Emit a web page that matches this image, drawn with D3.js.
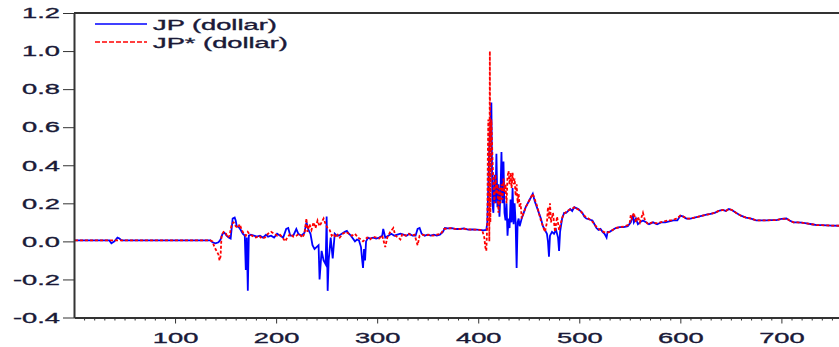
<!DOCTYPE html>
<html>
<head>
<meta charset="utf-8">
<script src="https://cdn.jsdelivr.net/npm/d3@7"></script>
<style>
  html, body { margin: 0; padding: 0; background: #fff; overflow: hidden; }
  svg { display: block; }
</style>
</head>
<body>
<svg id="chart" width="839" height="347"></svg>
<script>
// tick labels
const yTicks = [-0.4, -0.2, 0.0, 0.2, 0.4, 0.6, 0.8, 1.0, 1.2];
const xTicks = [100, 200, 300, 400, 500, 600, 700];
const seriesNames = ["JP (dollar)", "JP* (dollar)"];

// JP (dollar): [observation, value]
const jpPts = [
  [1,0.005],[35,0.005],[37,-0.01],[40,0.0],[43,0.02],[45,0.015],[47,0.005],[135,0.005],
  [137,-0.005],[140,-0.01],[143,-0.005],[145,0.01],[147,0.04],[149,0.045],[151,0.03],[153,0.02],
  [155,0.015],[157,0.12],[159,0.125],[160,0.11],[161,0.08],[163,0.075],[165,0.06],[167,0.04],
  [169,0.03],[170,-0.15],[171,0.02],[172,-0.26],[173,0.03],[175,0.035],[178,0.03],[181,0.025],
  [184,0.03],[187,0.02],[190,0.035],[192,0.025],[195,0.03],[198,0.02],[201,0.04],[204,0.03],
  [207,0.02],[210,0.065],[212,0.07],[214,0.03],[217,0.03],[220,0.065],[222,0.04],[225,0.03],
  [228,0.045],[230,0.1],[232,0.06],[234,0.04],[236,-0.02],[238,-0.04],[240,-0.03],[242,-0.02],
  [243,-0.2],[245,-0.05],[247,-0.1],[249,-0.12],[250,0.13],[251,-0.26],[252,-0.1],[254,0.02],
  [256,-0.09],[258,0.04],[260,0.03],[262,0.03],[265,0.04],[268,0.05],[270,0.055],[272,0.04],
  [274,0.03],[276,0.015],[278,0.0],[280,0.01],[282,0.005],[284,-0.03],[285,-0.09],[286,-0.14],
  [287,-0.04],[288,-0.1],[289,0.0],[291,0.02],[293,0.015],[296,0.02],[299,0.015],[302,0.02],
  [305,0.03],[306,0.065],[308,0.02],[311,0.03],[314,0.04],[317,0.03],[320,0.035],[323,0.04],
  [326,0.035],[329,0.03],[332,0.04],[335,0.03],[338,0.03],[340,0.065],[342,0.07],[344,0.04],
  [347,0.03],[350,0.035],[353,0.03],[356,0.035],[359,0.03],[362,0.035],[365,0.05],[367,0.07],
  [370,0.068],[374,0.07],[378,0.065],[382,0.065],[386,0.068],[390,0.062],[394,0.063],[398,0.062],
  [402,0.06],[405,0.058],[408,0.06],
  [409,0.1],[410,0.3],[411,0.5],[412,0.6],[413,0.73],[414,0.2],[415,0.15],[416,0.35],
  [417,0.2],[418,0.46],[419,0.18],[420,0.3],[421,0.13],[422,0.25],[423,0.47],[424,0.2],
  [425,0.42],[426,0.15],[427,0.11],[428,0.2],[429,0.03],[430,0.12],[431,0.07],[432,0.22],
  [433,0.1],[434,0.28],[435,0.09],[436,0.2],[437,0.1],[438,-0.14],[439,0.1],[440,0.12],
  [441,0.08],[443,0.12],[445,0.15],[447,0.18],[449,0.2],[451,0.22],[453,0.24],[454,0.25],
  [456,0.21],[458,0.18],[460,0.15],[462,0.12],[464,0.08],[466,0.06],[468,0.04],[469,0.0],
  [470,-0.08],[471,0.03],[473,0.05],[475,0.04],[477,0.06],[479,0.02],[480,-0.05],[481,0.05],
  [483,0.12],[485,0.15],[487,0.15],[489,0.16],[491,0.17],[493,0.16],[495,0.18],[497,0.175],
  [499,0.17],[501,0.16],[503,0.15],[505,0.13],[507,0.12],[510,0.115],[513,0.11],[515,0.09],
  [517,0.07],[519,0.06],[521,0.065],[523,0.05],[525,0.04],[527,0.02],[528,0.05],[530,0.05],
  [533,0.06],[536,0.07],[540,0.075],[544,0.075],[548,0.08],[551,0.1],[552,0.12],[553,0.14],
  [554,0.1],[556,0.12],[558,0.09],[560,0.1],[563,0.11],[566,0.1],[569,0.09],[573,0.1],
  [577,0.09],[581,0.1],[585,0.1],[589,0.105],[593,0.11],[597,0.11]
];

// JP* (dollar): [observation, value]
const jpStarPts = [
  [1,0.005],[135,0.005],[137,0.0],[139,-0.03],[141,-0.05],[143,-0.07],[144,-0.1],[145,-0.08],
  [146,0.03],[148,0.05],[150,0.045],[152,0.02],[154,0.03],[156,0.09],[158,0.1],[160,0.08],
  [162,0.07],[164,0.09],[166,0.06],[168,0.04],[170,0.03],[172,0.05],[174,0.035],[176,0.03],
  [178,0.025],[180,0.02],[183,0.03],[186,0.015],[189,0.02],[192,0.04],[195,0.05],[198,0.04],
  [201,0.03],[204,0.035],[207,0.015],[209,0.0],[211,0.02],[214,0.04],[217,0.025],[220,0.03],
  [223,0.04],[226,0.02],[228,0.04],[230,0.12],[231,0.05],[233,0.09],[235,0.06],[237,0.1],
  [239,0.07],[241,0.11],[243,0.08],[245,0.1],[247,0.12],[249,0.09],[251,0.07],[253,0.06],
  [255,0.03],[257,0.04],[259,0.02],[261,0.035],[263,0.02],[266,0.04],[269,0.05],[272,0.04],
  [275,0.03],[278,0.04],[281,0.02],[284,0.01],[286,0.0],[288,0.01],[290,0.02],[293,0.01],
  [296,0.025],[299,0.02],[302,0.015],[305,0.03],[308,-0.03],[310,0.02],[313,0.05],[316,0.07],
  [318,0.03],[321,0.02],[323,0.01],[325,0.04],[328,0.03],[331,0.04],[334,0.03],[337,0.035],
  [340,-0.02],[342,0.03],[345,0.035],[348,0.03],[351,0.035],[355,0.03],[359,0.035],[363,0.04],
  [366,0.065],[369,0.068],[373,0.07],[377,0.066],[381,0.065],[385,0.067],[389,0.063],[393,0.062],
  [397,0.062],[401,0.06],[404,0.058],[406,0.02],[407,-0.03],[408,-0.05],
  [409,0.1],[409.5,0.45],[410,0.64],[411,0.0],[411.5,1.0],[412,0.1],[412.5,0.55],[413,0.64],
  [414,0.45],[415,0.3],[416,0.2],[417,0.35],[418,0.25],[419,0.3],[420,0.15],[421,0.28],
  [422,0.2],[423,0.3],[424,0.22],[425,0.33],[426,0.26],[427,0.3],[428,0.2],[429,0.34],
  [430,0.37],[431,0.3],[432,0.36],[433,0.28],[434,0.36],[435,0.3],[436,0.33],[437,0.24],
  [438,0.3],[439,0.2],[440,0.25],[441,0.18],[442,0.2],[443,0.12],[445,0.15],[447,0.18],
  [449,0.2],[451,0.22],[453,0.24],[454,0.25],[456,0.22],[458,0.19],[460,0.15],[462,0.11],
  [464,0.08],[466,0.05],[468,0.1],[469,0.18],[470,0.12],[471,0.2],[472,0.1],[474,0.15],
  [476,0.05],[478,0.13],[480,0.06],[482,0.1],[484,0.14],[486,0.15],[488,0.16],[490,0.165],
  [492,0.17],[494,0.175],[496,0.18],[498,0.17],[500,0.165],[502,0.155],[504,0.14],[506,0.13],
  [509,0.12],[512,0.11],[515,0.09],[518,0.07],[521,0.06],[524,0.05],[527,0.045],[530,0.05],
  [533,0.06],[536,0.07],[540,0.075],[544,0.078],[548,0.085],[550,0.1],[551,0.14],[552,0.12],
  [554,0.15],[556,0.1],[558,0.13],[560,0.1],[563,0.15],[565,0.11],[568,0.09],[572,0.1],
  [576,0.095],[580,0.1],[584,0.105],[588,0.11],[592,0.11],[596,0.12]
];

// both series sit on top of each other from about obs 600 on
const sharedTail = [
  [600,0.135],[603,0.13],[606,0.12],[610,0.12],[614,0.125],[618,0.13],[622,0.135],[626,0.14],
  [630,0.145],[634,0.15],[638,0.16],[642,0.165],[645,0.16],[648,0.17],[651,0.165],[655,0.15],
  [660,0.135],[665,0.125],[670,0.12],[675,0.11],[680,0.11],[685,0.11],[690,0.112],[695,0.112],
  [700,0.118],[705,0.12],[708,0.11],[712,0.1],[716,0.1],[720,0.098],[725,0.095],[730,0.09],
  [735,0.085],[740,0.085],[745,0.084],[750,0.083],[757,0.082]
];

const plot = { left: 74, top: 13, right: 839, bottom: 317.5 };
const SX = 1.82; // the source picture is stretched sideways, text too
const textColor = "#1a1a38";
const fontFamily = "'Liberation Sans', Arial, sans-serif";

const svg = d3.select("#chart");

const x = d3.scaleLinear().domain([0, 757]).range([plot.left, plot.right]);
const y = d3.scaleLinear().domain([-0.4, 1.2]).range([plot.bottom, plot.top]);

// top frame line
svg.append("line")
  .attr("x1", plot.left).attr("x2", plot.right)
  .attr("y1", plot.top).attr("y2", plot.top)
  .attr("stroke", "#333").attr("stroke-width", 2);

// lines
const line = d3.line().x(d => x(d[0])).y(d => y(d[1]));

svg.append("path")
  .datum(jpPts.concat(sharedTail))
  .attr("fill", "none")
  .attr("stroke", "#0000ff")
  .attr("stroke-width", 1.8)
  .attr("d", line);

svg.append("path")
  .datum(jpStarPts.concat(sharedTail))
  .attr("fill", "none")
  .attr("stroke", "#ff0000")
  .attr("stroke-width", 1.8)
  .attr("stroke-dasharray", "3,2")
  .attr("d", line);

// text style helper, with a thin stroke to get the heavy look of the source
function styleText(sel) {
  sel.style("font-family", fontFamily)
    .style("font-size", "15px")
    .attr("fill", textColor)
    .attr("stroke", textColor)
    .attr("stroke-width", 0.35);
}

// x axis: minor ticks every 10, major with labels every 100
svg.append("g")
  .attr("transform", `translate(0,${plot.bottom})`)
  .call(d3.axisBottom(x)
    .tickValues(d3.range(10, 757, 10).filter(v => v % 100 !== 0))
    .tickSize(3).tickSizeOuter(0).tickFormat(""))
  .call(g => g.select(".domain").remove())
  .selectAll("line").attr("stroke", "#333");

const xAxis = svg.append("g")
  .attr("transform", `translate(0,${plot.bottom})`)
  .call(d3.axisBottom(x).tickValues(xTicks).tickSize(6).tickSizeOuter(0).tickPadding(9));

xAxis.select(".domain").attr("stroke", "#333").attr("stroke-width", 2);
xAxis.selectAll("line").attr("stroke", "#333");
xAxis.selectAll("text")
  .attr("transform", `scale(${SX},1)`)
  .call(styleText);

// y axis
const yAxis = svg.append("g")
  .attr("transform", `translate(${plot.left},0)`)
  .call(d3.axisLeft(y).tickValues(yTicks).tickSize(11).tickSizeOuter(0));

yAxis.select(".domain").attr("stroke", "#333").attr("stroke-width", 2);
yAxis.selectAll("line").attr("stroke", "#333");
yAxis.selectAll("text")
  .attr("transform", `scale(${SX},1)`)
  .attr("x", -14 / SX)
  .text(d => d3.format(".1f")(d).replace("\u2212", "-"))
  .call(styleText);

// legend
const legend = svg.append("g");
const legendRows = [
  { name: seriesNames[0], color: "#0000ff", dash: null, y: 24 },
  { name: seriesNames[1], color: "#ff0000", dash: "5,2", y: 42 }
];
legendRows.forEach(r => {
  legend.append("line")
    .attr("x1", 95).attr("x2", 147)
    .attr("y1", r.y).attr("y2", r.y)
    .attr("stroke", r.color)
    .attr("stroke-width", 1.6)
    .attr("stroke-dasharray", r.dash);
  legend.append("text")
    .attr("transform", `translate(153,${r.y + 6}) scale(${SX},1)`)
    .text(r.name)
    .call(styleText);
});
</script>
</body>
</html>
